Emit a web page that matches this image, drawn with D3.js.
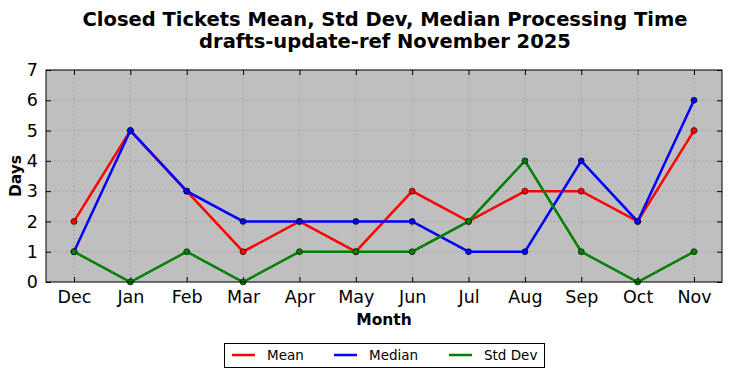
<!DOCTYPE html>
<html><head><meta charset="utf-8">
<script src="https://cdn.jsdelivr.net/npm/d3@7"></script>
<style>body{margin:0;background:#fff;} svg{display:block;font-family:"DejaVu Sans",sans-serif;}</style>
</head><body><div id="c"></div>
<script>
const months = ["Dec","Jan","Feb","Mar","Apr","May","Jun","Jul","Aug","Sep","Oct","Nov"];
const meanVals = [2,5,3,1,2,1,3,2,3,3,2,5];
const medianVals = [1,5,3,2,2,2,2,1,1,4,2,6];
const stdVals = [1,0,1,0,1,1,1,2,4,1,0,1];
const yTicks = [0,1,2,3,4,5,6,7];
const seriesNames = ["Mean","Median","Std Dev"];
const seriesColors = ["#ff0000","#0000ff","#008000"];

const W=732,H=378;
const L=46,R=722,T=70,B=282;
const svg=d3.select("#c").append("svg").attr("width",W).attr("height",H);
const x=d3.scalePoint().domain(months).range([74,694]);
const y=d3.scaleLinear().domain([0,7]).range([B,T]);

svg.append("rect").attr("x",L).attr("y",T).attr("width",R-L).attr("height",B-T).attr("fill","#bfbfbf");

// grid
const g=svg.append("g");
months.forEach(m=>g.append("line").attr("x1",x(m)).attr("x2",x(m)).attr("y1",T).attr("y2",B).attr("stroke","#808080").attr("stroke-width",0.8).attr("stroke-dasharray","1,3"));
yTicks.forEach(v=>g.append("line").attr("x1",L).attr("x2",R).attr("y1",y(v)).attr("y2",y(v)).attr("stroke","#808080").attr("stroke-width",0.8).attr("stroke-dasharray","1,3"));

// axes
const xa=svg.append("g").attr("transform",`translate(0,${B})`).call(d3.axisBottom(x).tickSizeInner(-5).tickSizeOuter(0).tickPadding(9));
const xt=svg.append("g").attr("transform",`translate(0,${T})`).call(d3.axisTop(x).tickSizeInner(-5).tickSizeOuter(0).tickFormat(""));
const ya=svg.append("g").attr("transform",`translate(${L},0)`).call(d3.axisLeft(y).tickValues(yTicks).tickFormat(d3.format("d")).tickSizeInner(-5).tickSizeOuter(0).tickPadding(8));
const yr=svg.append("g").attr("transform",`translate(${R},0)`).call(d3.axisRight(y).tickValues(yTicks).tickSizeInner(-5).tickSizeOuter(0).tickFormat(""));
[xa,xt,ya,yr].forEach(a=>{a.select(".domain").remove();a.selectAll("line").attr("stroke","#000");a.selectAll("text").attr("font-size",17.5).attr("font-family","DejaVu Sans").attr("fill","#000");});

const data=[meanVals,medianVals,stdVals];
const line=d3.line().x((d,i)=>x(months[i])).y(d=>y(d));
data.forEach((vals,si)=>{
  svg.append("path").datum(vals).attr("d",line).attr("fill","none").attr("stroke",seriesColors[si]).attr("stroke-width",2.5);
  svg.selectAll(null).data(vals).enter().append("circle").attr("cx",(d,i)=>x(months[i])).attr("cy",d=>y(d)).attr("r",3).attr("fill",seriesColors[si]).attr("stroke","#000").attr("stroke-width",0.6);
});

svg.append("rect").attr("x",L).attr("y",T).attr("width",R-L).attr("height",B-T).attr("fill","none").attr("stroke","#000").attr("stroke-width",1);

svg.append("text").attr("x",385).attr("y",26).attr("text-anchor","middle").attr("font-size",19.5).attr("font-weight","bold").text("Closed Tickets Mean, Std Dev, Median Processing Time");
svg.append("text").attr("x",385).attr("y",48).attr("text-anchor","middle").attr("font-size",19.5).attr("font-weight","bold").text("drafts-update-ref November 2025");
svg.append("text").attr("x",384).attr("y",325).attr("text-anchor","middle").attr("font-size",15.5).attr("font-weight","bold").text("Month");
svg.append("text").attr("transform","translate(21,176) rotate(-90)").attr("text-anchor","middle").attr("font-size",15.5).attr("font-weight","bold").text("Days");

// legend
const lg=svg.append("g");
lg.append("rect").attr("x",224.5).attr("y",343.5).attr("width",320).attr("height",24).attr("fill","#fff").attr("stroke","#000").attr("stroke-width",1);
const lx=[232,334,449];
seriesNames.forEach((n,i)=>{
  lg.append("line").attr("x1",lx[i]).attr("x2",lx[i]+23).attr("y1",355).attr("y2",355).attr("stroke",seriesColors[i]).attr("stroke-width",2.5);
  lg.append("text").attr("x",lx[i]+35).attr("y",360).attr("font-size",13.5).text(n);
});
</script></body></html>
